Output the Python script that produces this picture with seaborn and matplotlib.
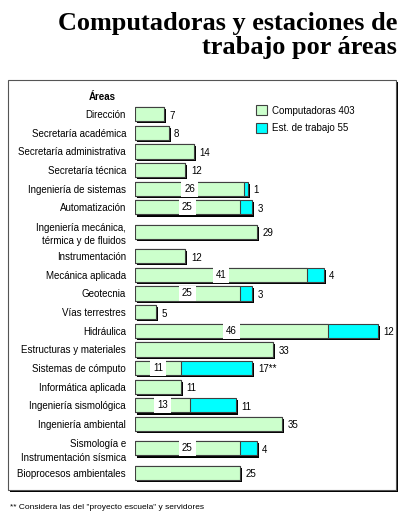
import matplotlib.pyplot as plt
import matplotlib.patheffects as pe
from matplotlib.patches import Patch, Rectangle
import seaborn as sns
import pandas as pd

# Datos
areas = [
    "Dirección",
    "Secretaría académica",
    "Secretaría administrativa",
    "Secretaría técnica",
    "Ingeniería de sistemas",
    "Automatización",
    "Ingeniería mecánica,\ntérmica y de fluidos",
    "Instrumentación",
    "Mecánica aplicada",
    "Geotecnia",
    "Vías terrestres",
    "Hidráulica",
    "Estructuras y materiales",
    "Sistemas de cómputo",
    "Informática aplicada",
    "Ingeniería sismológica",
    "Ingeniería ambiental",
    "Sismología e\nInstrumentación sísmica",
    "Bioprocesos ambientales",
]
computadoras = [7, 8, 14, 12, 26, 25, 29, 12, 41, 25, 5, 46, 33, 11, 11, 13, 35, 25, 25]
estaciones = [0, 0, 0, 0, 1, 3, 0, 0, 4, 3, 0, 12, 0, 17, 0, 11, 0, 4, 0]
marcas = ["", "", "", "", "", "", "", "", "", "", "", "", "", "**", "", "", "", "", ""]

titulo = "Computadoras y estaciones de\ntrabajo por áreas"
nota = '** Considera las del "proyecto escuela" y servidores'

verde = "#ccffcc"
cian = "#00ffff"
fs = 7

df = pd.DataFrame({"area": areas, "comp": computadoras, "est": estaciones})
df["total"] = df["comp"] + df["est"]

# las filas con dos renglones ocupan mas espacio
alto = [1.0 + 0.62 * a.count("\n") for a in areas]
pos = [0.0]
for i in range(1, len(areas)):
    pos.append(pos[-1] + (alto[i - 1] + alto[i]) / 2)
df["pos"] = pos

sns.set_theme(style="white")
plt.rcParams["font.family"] = ["Liberation Sans", "DejaVu Sans"]
plt.rcParams["text.color"] = "black"
plt.rcParams["ytick.color"] = "black"

fig = plt.figure(figsize=(4.08, 5.19), dpi=100)

# Marco con sombra
marco = Rectangle((0.02, 0.056), 0.951, 0.79, transform=fig.transFigure,
                  facecolor="white", edgecolor="#555555", linewidth=0.8, zorder=-1,
                  path_effects=[pe.withSimplePatchShadow(offset=(1.5, -1.5),
                                                         shadow_rgbFace="black", alpha=1)])
fig.patches.append(marco)

ax = fig.add_axes([0.331, 0.071, 0.616, 0.727])
ax.set_zorder(2)
ax.patch.set_visible(False)

# Barras totales (cian) y computadoras (verde) encima
sns.barplot(data=df, y="pos", x="total", orient="h", native_scale=True, color=cian,
            saturation=1, width=0.76, edgecolor="#404040", linewidth=0.8,
            errorbar=None, ax=ax)
for p in ax.patches:
    p.set_path_effects([pe.withSimplePatchShadow(offset=(1.5, -1.5),
                                                 shadow_rgbFace="black", alpha=1)])
sns.barplot(data=df, y="pos", x="comp", orient="h", native_scale=True, color=verde,
            saturation=1, width=0.76, edgecolor="#404040", linewidth=0.8,
            errorbar=None, ax=ax)

# Etiquetas de valores
for y, c, e, m in zip(pos, computadoras, estaciones, marcas):
    if e == 0:
        ax.annotate(str(c), (c, y), xytext=(4, -1), textcoords="offset points",
                    va="center", ha="left", fontsize=fs, color="black")
    else:
        ax.text(c / 2, y, str(c), ha="center", va="center", fontsize=fs,
                bbox=dict(boxstyle="square,pad=0.3", fc="white", ec="none"))
        ax.annotate(f"{e}{m}", (c + e, y), xytext=(4, -1), textcoords="offset points",
                    va="center", ha="left", fontsize=fs, color="black")

ax.set_xlim(0, 60)
ax.set_ylim(pos[-1] + 0.5 * alto[-1], pos[0] - 0.5 * alto[0])
ax.set_yticks(pos, areas)
ax.set_xticks([])
ax.set_xlabel("")
ax.set_ylabel("")
ax.tick_params(axis="y", length=0, pad=6.5, labelsize=fs, labelcolor="black")
for lbl in ax.get_yticklabels():
    lbl.set_linespacing(1.45)
for s in ax.spines.values():
    s.set_visible(False)

handles = [Patch(facecolor=verde, edgecolor="#404040", linewidth=0.8),
           Patch(facecolor=cian, edgecolor="#404040", linewidth=0.8)]
ax.legend(handles, ["Computadoras 403", "Est. de trabajo 55"], loc="upper left",
          bbox_to_anchor=(0.627, 0.797), bbox_transform=fig.transFigure,
          frameon=False, fontsize=fs, borderpad=0, borderaxespad=0,
          handlelength=1.2, handleheight=1.2, handletextpad=0.5, labelspacing=0.75)

fig.text(0.25, 0.813, "Áreas", ha="center", va="center", fontsize=fs, fontweight="bold")
fig.text(0.973, 0.977, titulo, ha="right", va="top", fontsize=18.9, fontweight="bold",
         family="Liberation Serif", linespacing=1.08)
fig.text(0.025, 0.023, nota, ha="left", va="center", fontsize=6)

fig.savefig("out.png", dpi=100)
